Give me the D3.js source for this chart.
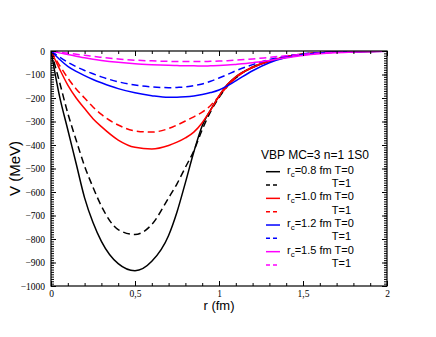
<!DOCTYPE html>
<html>
<head>
<meta charset="utf-8">
<script src="https://cdn.jsdelivr.net/npm/d3@7"></script>
<style>
  body { margin: 0; background: #fff; }
  svg { display: block; }
</style>
</head>
<body>
<script>
// radial grid (fm) shared by every curve
const r = [0, 0.05, 0.1, 0.15, 0.2, 0.25, 0.3, 0.4, 0.5, 0.6, 0.7, 0.75, 0.8, 0.85, 0.9, 0.95, 1.0, 1.05, 1.1, 1.2, 1.3, 1.4, 1.5, 1.6, 1.8, 2.0];

// V (MeV)
const rc08T0 = [0, -190, -335, -480, -625, -730, -810, -905, -935, -895, -785, -685, -560, -430, -318, -250, -192, -143, -110, -70, -44, -24, -13, -7, -2, -1];
const rc08T1 = [0, -130, -265, -380, -490, -580, -660, -760, -781, -738, -625, -565, -495, -425, -335, -258, -198, -150, -115, -68, -42, -25, -14, -8, -3, -1];
const rc10T0 = [0, -75, -145, -200, -245, -288, -322, -379, -410, -417, -402, -388, -370, -345, -305, -252, -192, -143, -110, -70, -44, -24, -13, -7, -2, -1];
const rc10T1 = [0, -60, -115, -162, -200, -238, -270, -315, -340, -345, -330, -315, -298, -280, -260, -232, -193, -150, -115, -68, -42, -25, -14, -8, -3, -1];
const rc12T0 = [0, -35, -65, -87, -105, -121, -135, -160, -178, -190, -197, -197, -195, -191, -185, -177, -166, -148, -127, -84, -50, -28, -15, -8, -3, -1];
const rc12T1 = [0, -25, -48, -67, -83, -97, -110, -131, -145, -153, -156, -155, -153, -147, -140, -129, -115, -100, -84, -58, -36, -22, -12, -7, -2, -1];
const rc15T0 = [0, -8, -15, -22, -29, -35, -40, -48, -54, -58, -61, -62, -63, -63, -64, -63, -62, -60, -57, -50, -40, -29, -19, -12, -4, -1];
const rc15T1 = [0, -5, -9, -14, -18, -23, -27, -34, -39, -42, -44, -45, -45, -45, -45, -44, -43, -41, -39, -34, -27, -20, -14, -9, -3, -1];

const xTicks = [0, 0.5, 1, 1.5, 2];
const yTicks = [0, -100, -200, -300, -400, -500, -600, -700, -800, -900, -1000];

const series = [
  {rc: "0.8", T: "0", values: rc08T0, color: "#000000", dash: null},
  {rc: null,  T: "1", values: rc08T1, color: "#000000", dash: "7,4"},
  {rc: "1.0", T: "0", values: rc10T0, color: "#ff0000", dash: null},
  {rc: null,  T: "1", values: rc10T1, color: "#ff0000", dash: "7,4"},
  {rc: "1.2", T: "0", values: rc12T0, color: "#0000ff", dash: null},
  {rc: null,  T: "1", values: rc12T1, color: "#0000ff", dash: "7,4"},
  {rc: "1.5", T: "0", values: rc15T0, color: "#ff00ff", dash: null},
  {rc: null,  T: "1", values: rc15T1, color: "#ff00ff", dash: "7,4"},
];

const width = 436, height = 337;
const plot = {left: 51, right: 387, top: 51, bottom: 286};

const x = d3.scaleLinear().domain([0, 2]).range([plot.left, plot.right]);
const y = d3.scaleLinear().domain([-1000, 0]).range([plot.bottom, plot.top]);

const svg = d3.select("body").append("svg")
    .attr("width", width)
    .attr("height", height);

svg.append("defs").append("clipPath")
    .attr("id", "clip")
    .append("rect")
    .attr("x", plot.left)
    .attr("y", plot.top)
    .attr("width", plot.right - plot.left)
    .attr("height", plot.bottom - plot.top);

const line = d3.line()
    .x((d, i) => x(r[i]))
    .y(d => y(d))
    .curve(d3.curveMonotoneX);

svg.append("g")
    .attr("clip-path", "url(#clip)")
    .attr("fill", "none")
    .attr("stroke-width", 1.5)
    .selectAll("path")
    .data(series)
    .join("path")
    .attr("stroke", d => d.color)
    .attr("stroke-dasharray", d => d.dash)
    .attr("d", d => line(d.values));

// axes, ticks pointing inwards on all four sides
const fmt = d => String(d).replace(".", ",");
const xMinor = d3.range(0, 2.0001, 0.1);
const yMinor = d3.range(-1000, 1, 10);

function ticks(g, axis, inner) {
  g.call(axis).call(a => a.select(".domain").remove());
  g.selectAll(".tick line").attr("stroke", "#000");
  if (inner) g.selectAll(".tick text").remove();
}

svg.append("g")
    .attr("transform", `translate(0,${plot.bottom})`)
    .call(ticks, d3.axisBottom(x).tickValues(xMinor).tickSize(-3).tickFormat(""), true);
svg.append("g")
    .attr("class", "num")
    .attr("transform", `translate(0,${plot.bottom})`)
    .call(ticks, d3.axisBottom(x).tickValues(xTicks).tickSize(-5).tickPadding(4).tickFormat(fmt), false);
svg.append("g")
    .attr("transform", `translate(0,${plot.top})`)
    .call(ticks, d3.axisTop(x).tickValues(xMinor).tickSize(-3).tickFormat(""), true);
svg.append("g")
    .attr("transform", `translate(0,${plot.top})`)
    .call(ticks, d3.axisTop(x).tickValues(xTicks).tickSize(-5).tickFormat(""), true);

svg.append("g")
    .attr("transform", `translate(${plot.left},0)`)
    .call(ticks, d3.axisLeft(y).tickValues(yMinor).tickSize(-3).tickFormat(""), true);
svg.append("g")
    .attr("class", "num")
    .attr("transform", `translate(${plot.left},0)`)
    .call(ticks, d3.axisLeft(y).tickValues(yTicks).tickSize(-5).tickPadding(6).tickFormat(d3.format("d")), false);
svg.append("g")
    .attr("transform", `translate(${plot.right},0)`)
    .call(ticks, d3.axisRight(y).tickValues(yMinor).tickSize(-3).tickFormat(""), true);
svg.append("g")
    .attr("transform", `translate(${plot.right},0)`)
    .call(ticks, d3.axisRight(y).tickValues(yTicks).tickSize(-5).tickFormat(""), true);

// tick numbers are set in a Times-like face
svg.selectAll(".num text")
    .style("font-family", "'Liberation Serif', 'Times New Roman', serif")
    .style("font-size", "9.5px");

svg.append("rect")
    .attr("x", plot.left)
    .attr("y", plot.top)
    .attr("width", plot.right - plot.left)
    .attr("height", plot.bottom - plot.top)
    .attr("fill", "none")
    .attr("stroke", "#000")
    .attr("stroke-width", 1.2);

// axis titles
svg.append("text")
    .attr("x", x(1))
    .attr("y", 310)
    .attr("text-anchor", "middle")
    .attr("font-family", "Liberation Sans, Arial, sans-serif")
    .attr("font-size", 13)
    .text("r (fm)");

svg.append("text")
    .attr("transform", `translate(20,${(plot.top + plot.bottom) / 2}) rotate(-90)`)
    .attr("text-anchor", "middle")
    .attr("font-family", "Liberation Sans, Arial, sans-serif")
    .attr("font-size", 15)
    .text("V (MeV)");

// legend
const legend = svg.append("g")
    .attr("font-family", "Liberation Sans, Arial, sans-serif")
    .attr("font-size", 11);

legend.append("text")
    .attr("x", 261)
    .attr("y", 159)
    .attr("font-size", 12)
    .text("VBP MC=3 n=1 1S0");

const rowY = d3.scaleLinear().domain([0, 7]).range([171.7, 265]);

const row = legend.selectAll("g.row")
    .data(series)
    .join("g")
    .attr("class", "row")
    .attr("transform", (d, i) => `translate(0,${rowY(i)})`);

row.append("line")
    .attr("x1", 266)
    .attr("x2", 280)
    .attr("stroke", d => d.color)
    .attr("stroke-width", 1.5)
    .attr("stroke-dasharray", d => d.dash ? "4,3" : null);

row.filter(d => d.rc).append("text")
    .attr("x", 287)
    .attr("y", 2)
    .call(t => {
      t.append("tspan").text("r");
      t.append("tspan").attr("dy", 3).attr("font-size", 8).text("c");
      t.append("tspan").attr("dy", -3).text(d => `=${d.rc} fm T=${d.T}`);
    });

row.filter(d => !d.rc).append("text")
    .attr("x", 351)
    .attr("y", 2)
    .attr("text-anchor", "end")
    .text(d => `T=${d.T}`);
</script>
</body>
</html>
